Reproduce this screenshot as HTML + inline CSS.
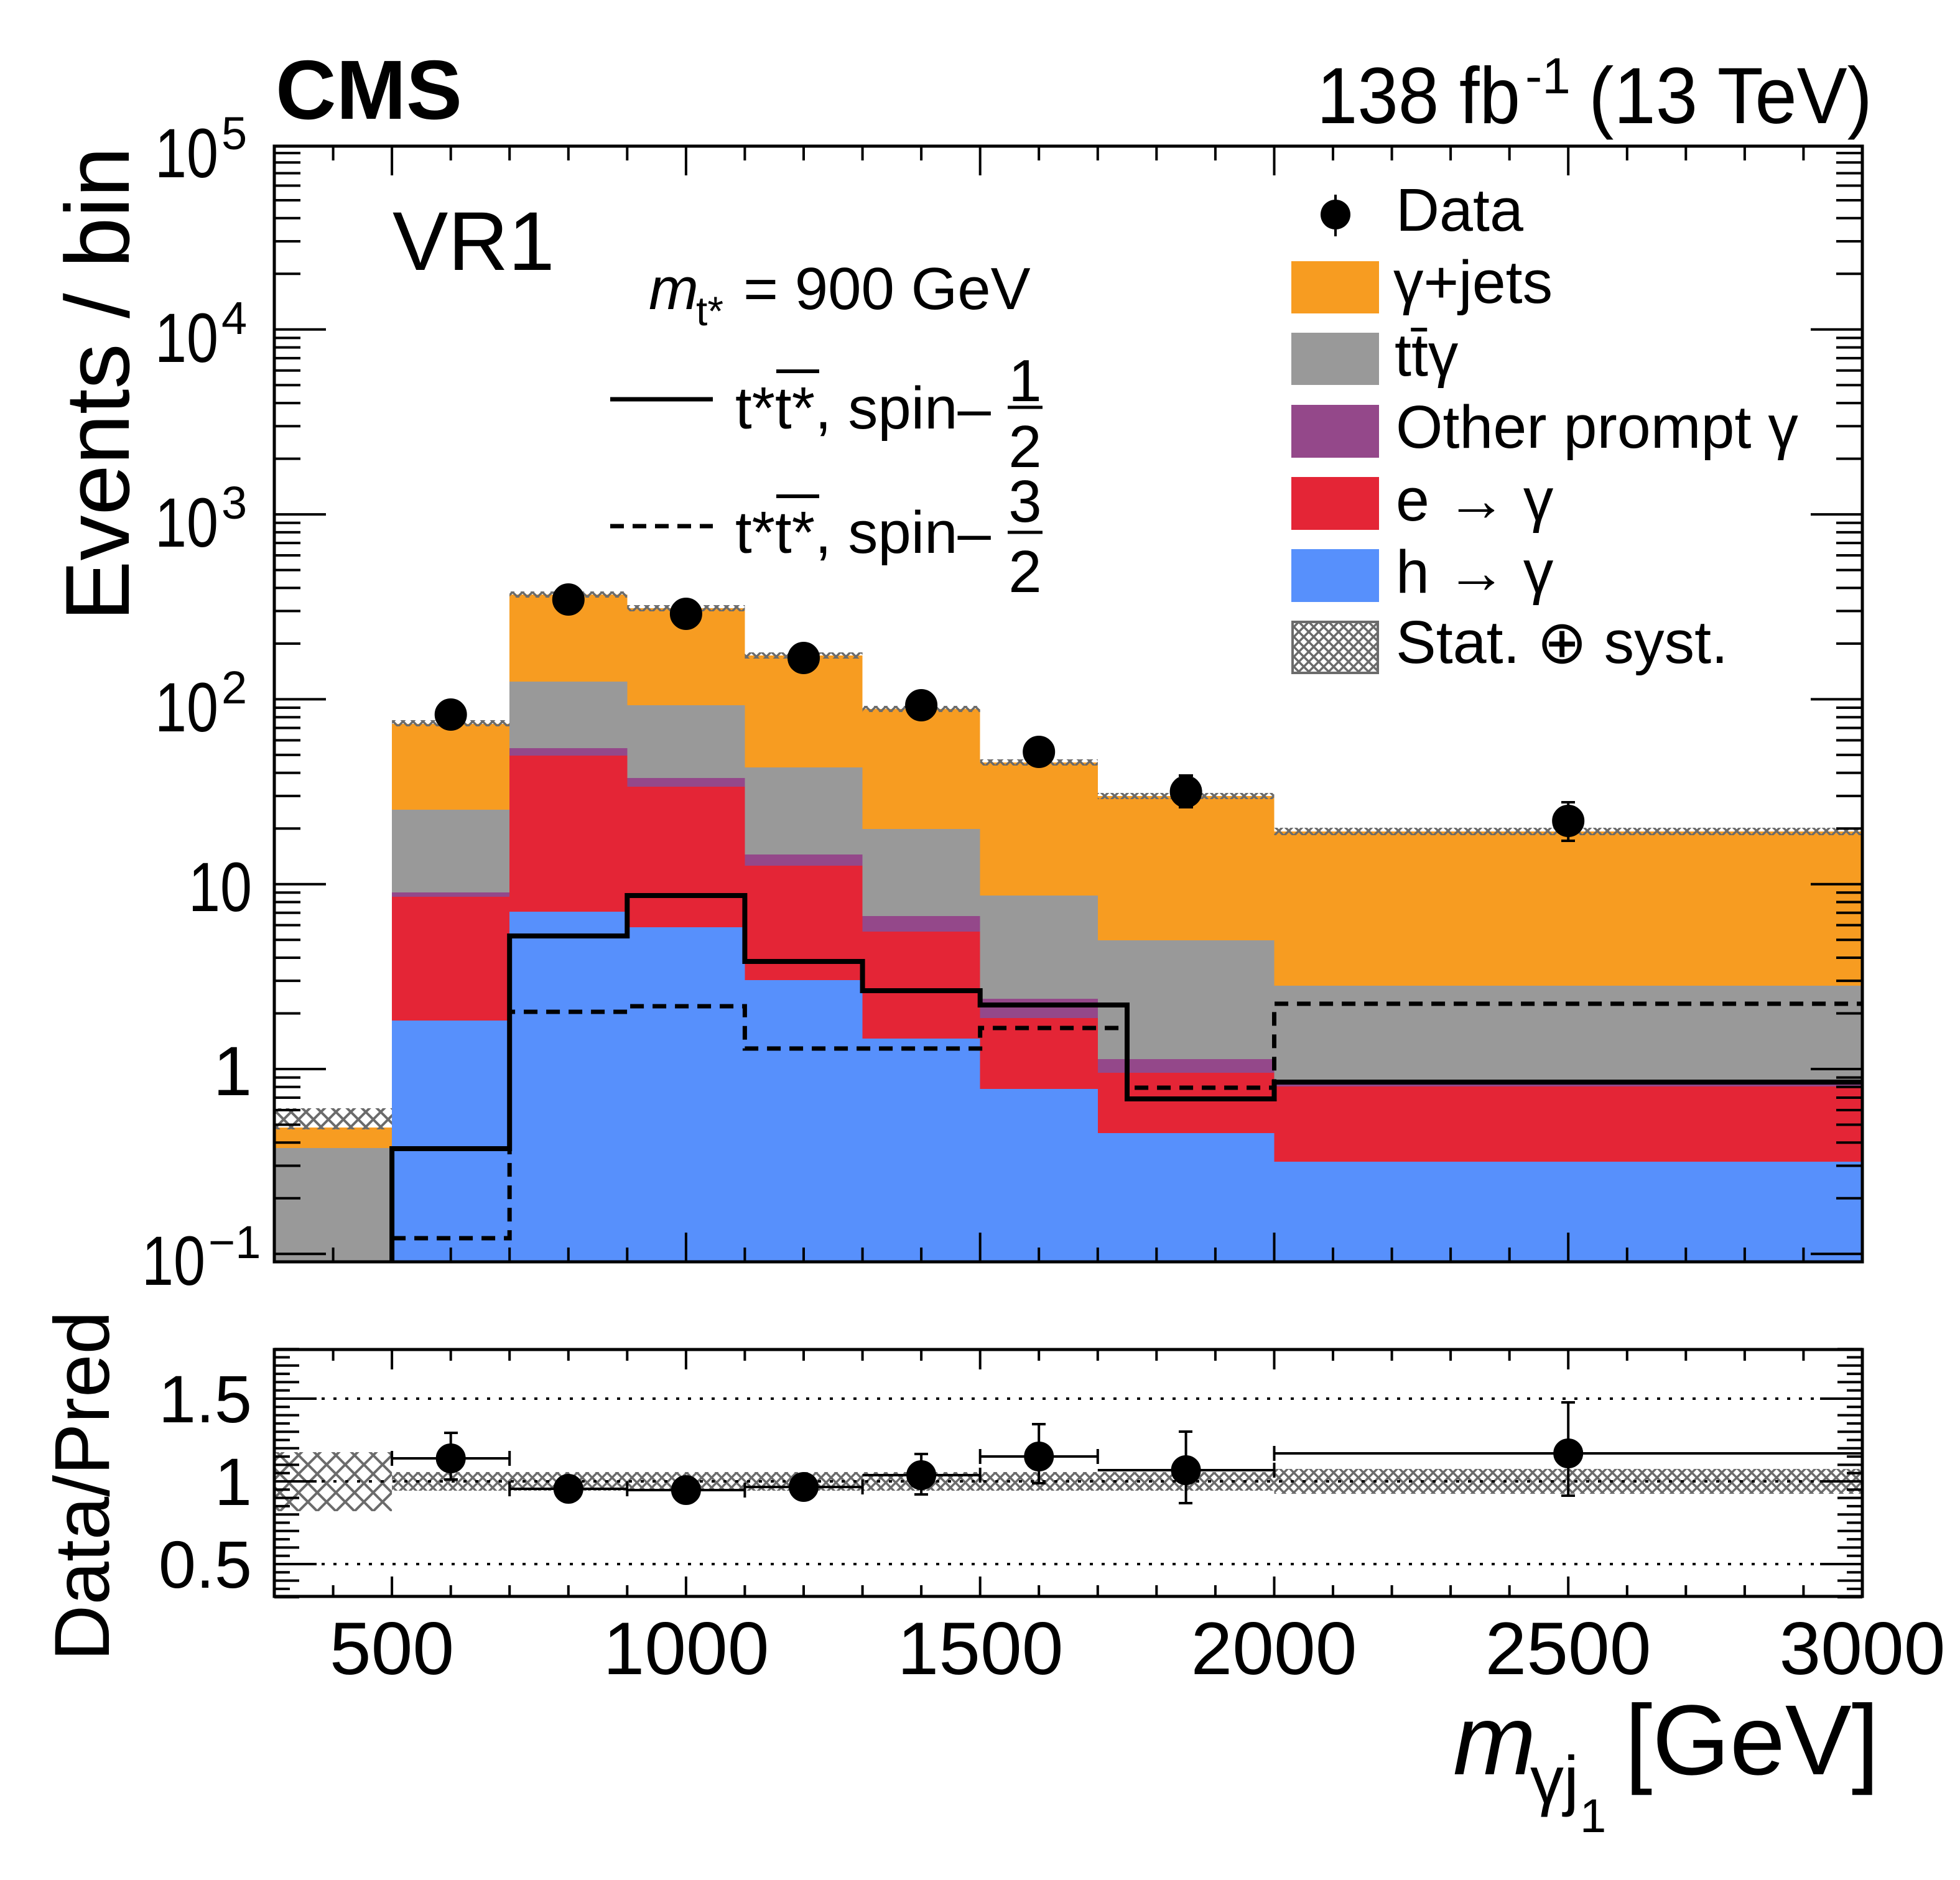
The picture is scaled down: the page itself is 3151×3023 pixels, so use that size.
<!DOCTYPE html>
<html><head><meta charset="utf-8"><style>
html,body{margin:0;padding:0;background:#fff;}
svg{display:block;}
text{font-family:"Liberation Sans",Arial,sans-serif;fill:#000;}
</style></head><body>
<svg width="3151" height="3023" viewBox="0 0 3151 3023" xmlns="http://www.w3.org/2000/svg">
<defs>
<pattern id="hx" width="24" height="24" patternUnits="userSpaceOnUse">
<path d="M0 0L24 24M24 0L0 24" stroke="#6b6b6b" stroke-width="4"/>
</pattern>
<pattern id="hs" width="16" height="16" patternUnits="userSpaceOnUse">
<path d="M0 0L16 16M16 0L0 16" stroke="#6b6b6b" stroke-width="3.5"/>
</pattern>
<pattern id="hr" width="30" height="30" patternUnits="userSpaceOnUse">
<path d="M0 0L30 30M30 0L0 30" stroke="#6b6b6b" stroke-width="4"/>
</pattern>
</defs>

<g shape-rendering="crispEdges">
<rect x="441" y="1813" width="189.1" height="216" fill="#f79c21"/>
<rect x="441" y="1846" width="189.1" height="183" fill="#999999"/>
<rect x="630.1" y="1164" width="189.1" height="865" fill="#f79c21"/>
<rect x="630.1" y="1302" width="189.1" height="727" fill="#999999"/>
<rect x="630.1" y="1435" width="189.1" height="594" fill="#94488a"/>
<rect x="630.1" y="1442" width="189.1" height="587" fill="#e42536"/>
<rect x="630.1" y="1641" width="189.1" height="388" fill="#5790fc"/>
<rect x="819.2" y="956" width="189.1" height="1073" fill="#f79c21"/>
<rect x="819.2" y="1096" width="189.1" height="933" fill="#999999"/>
<rect x="819.2" y="1203" width="189.1" height="826" fill="#94488a"/>
<rect x="819.2" y="1215" width="189.1" height="814" fill="#e42536"/>
<rect x="819.2" y="1466" width="189.1" height="563" fill="#5790fc"/>
<rect x="1008.3" y="978" width="189.1" height="1051" fill="#f79c21"/>
<rect x="1008.3" y="1134" width="189.1" height="895" fill="#999999"/>
<rect x="1008.3" y="1251" width="189.1" height="778" fill="#94488a"/>
<rect x="1008.3" y="1265" width="189.1" height="764" fill="#e42536"/>
<rect x="1008.3" y="1491" width="189.1" height="538" fill="#5790fc"/>
<rect x="1197.4" y="1054" width="189.2" height="975" fill="#f79c21"/>
<rect x="1197.4" y="1234" width="189.2" height="795" fill="#999999"/>
<rect x="1197.4" y="1374" width="189.2" height="655" fill="#94488a"/>
<rect x="1197.4" y="1392" width="189.2" height="637" fill="#e42536"/>
<rect x="1197.4" y="1576" width="189.2" height="453" fill="#5790fc"/>
<rect x="1386.6" y="1140" width="189.1" height="889" fill="#f79c21"/>
<rect x="1386.6" y="1333" width="189.1" height="696" fill="#999999"/>
<rect x="1386.6" y="1473" width="189.1" height="556" fill="#94488a"/>
<rect x="1386.6" y="1498" width="189.1" height="531" fill="#e42536"/>
<rect x="1386.6" y="1670" width="189.1" height="359" fill="#5790fc"/>
<rect x="1575.7" y="1226" width="189.1" height="803" fill="#f79c21"/>
<rect x="1575.7" y="1440" width="189.1" height="589" fill="#999999"/>
<rect x="1575.7" y="1606" width="189.1" height="423" fill="#94488a"/>
<rect x="1575.7" y="1637" width="189.1" height="392" fill="#e42536"/>
<rect x="1575.7" y="1751" width="189.1" height="278" fill="#5790fc"/>
<rect x="1764.8" y="1280" width="283.7" height="749" fill="#f79c21"/>
<rect x="1764.8" y="1512" width="283.7" height="517" fill="#999999"/>
<rect x="1764.8" y="1703" width="283.7" height="326" fill="#94488a"/>
<rect x="1764.8" y="1725" width="283.7" height="304" fill="#e42536"/>
<rect x="1764.8" y="1822" width="283.7" height="207" fill="#5790fc"/>
<rect x="2048.5" y="1337" width="945.5" height="692" fill="#f79c21"/>
<rect x="2048.5" y="1585" width="945.5" height="444" fill="#999999"/>
<rect x="2048.5" y="1740" width="945.5" height="289" fill="#94488a"/>
<rect x="2048.5" y="1747" width="945.5" height="282" fill="#e42536"/>
<rect x="2048.5" y="1868" width="945.5" height="161" fill="#5790fc"/>
</g>

<rect x="441" y="1782" width="189.1" height="34" fill="url(#hx)"/>
<rect x="630.1" y="1158" width="189.1" height="10" fill="url(#hs)"/>
<rect x="819.2" y="951" width="189.1" height="10" fill="url(#hs)"/>
<rect x="1008.3" y="973" width="189.1" height="10" fill="url(#hs)"/>
<rect x="1197.4" y="1049" width="189.2" height="10" fill="url(#hs)"/>
<rect x="1386.6" y="1135" width="189.1" height="10" fill="url(#hs)"/>
<rect x="1575.7" y="1221" width="189.1" height="10" fill="url(#hs)"/>
<rect x="1764.8" y="1275" width="283.7" height="10" fill="url(#hs)"/>
<rect x="2048.5" y="1331" width="945.5" height="12" fill="url(#hs)"/>

<path d="M630.1 2029V1847H819.2V1505H1008.3V1440H1197.4V1546H1386.6V1593H1575.7V1616H1812V1767H2048.5V1740H2994" fill="none" stroke="#000" stroke-width="8"/>
<path d="M630.1 1991H819.2V1627H1008.3V1618H1197.4V1686H1575.7V1653H1812V1749H2048.5V1614H2994" fill="none" stroke="#000" stroke-width="7" stroke-dasharray="22,14"/>

<g fill="#000" stroke="#000" stroke-width="4">
<circle cx="724.7" cy="1149" r="24"/>
<circle cx="913.8" cy="964" r="24"/>
<circle cx="1102.9" cy="987" r="24"/>
<circle cx="1292" cy="1058" r="24"/>
<circle cx="1481.1" cy="1134" r="24"/>
<circle cx="1670.2" cy="1209" r="24"/>
<circle cx="1906.6" cy="1273" r="24"/>
<line x1="1906.6" y1="1246" x2="1906.6" y2="1299"/>
<line x1="1895" y1="1247" x2="1918" y2="1247"/><line x1="1895" y1="1298" x2="1918" y2="1298"/>
<circle cx="2521.2" cy="1320" r="24"/>
<line x1="2521.2" y1="1290" x2="2521.2" y2="1352"/>
<line x1="2510" y1="1290" x2="2532" y2="1290"/><line x1="2510" y1="1352" x2="2532" y2="1352"/>
</g>

<g stroke="#000" stroke-width="4" fill="none">
<path d="M535.6 235v23M630.1 235v47M724.7 235v23M819.2 235v23M913.8 235v23M1008.3 235v23M1102.9 235v47M1197.4 235v23M1292 235v23M1386.6 235v23M1481.1 235v23M1575.7 235v47M1670.2 235v23M1764.8 235v23M1859.3 235v23M1953.9 235v23M2048.5 235v47M2143 235v23M2237.6 235v23M2332.1 235v23M2426.7 235v23M2521.2 235v47M2615.8 235v23M2710.3 235v23M2804.9 235v23M2899.4 235v23"/>
<path d="M535.6 2029v-23M630.1 2029v-47M724.7 2029v-23M819.2 2029v-23M913.8 2029v-23M1008.3 2029v-23M1102.9 2029v-47M1197.4 2029v-23M1292 2029v-23M1386.6 2029v-23M1481.1 2029v-23M1575.7 2029v-47M1670.2 2029v-23M1764.8 2029v-23M1859.3 2029v-23M1953.9 2029v-23M2048.5 2029v-47M2143 2029v-23M2237.6 2029v-23M2332.1 2029v-23M2426.7 2029v-23M2521.2 2029v-47M2615.8 2029v-23M2710.3 2029v-23M2804.9 2029v-23M2899.4 2029v-23"/>
</g>
<g id="yticks" stroke="#000" stroke-width="4"></g>
<rect x="441" y="235" width="2553" height="1794" fill="none" stroke="#000" stroke-width="5"/>

<rect x="441" y="2335" width="189.1" height="95" fill="url(#hr)"/>
<rect x="630.1" y="2367" width="1418.4" height="30" fill="url(#hs)"/>
<rect x="2048.5" y="2362" width="945.5" height="40" fill="url(#hs)"/>
<g stroke="#000" stroke-width="4" stroke-dasharray="5,14">
<line x1="441" y1="2249" x2="2994" y2="2249"/>
<line x1="441" y1="2382" x2="2994" y2="2382"/>
<line x1="441" y1="2515" x2="2994" y2="2515"/>
</g>
<g stroke="#000" stroke-width="4" fill="#000">
<path d="M630.1 2345H819.2M630.1 2333v24M819.2 2333v24M724.7 2304v75M714 2304h22M714 2379h22" fill="none"/>
<circle cx="724.7" cy="2345" r="22"/>
<path d="M819.2 2394H1008.3M819.2 2382v24M1008.3 2382v24" fill="none"/>
<circle cx="913.8" cy="2394" r="22"/>
<path d="M1008.3 2396H1197.4M1197.4 2384v24" fill="none"/>
<circle cx="1102.9" cy="2396" r="22"/>
<path d="M1197.4 2391H1386.6M1386.6 2379v24M1292 2373v34M1281 2373h22M1281 2407h22" fill="none"/>
<circle cx="1292" cy="2391" r="22"/>
<path d="M1386.6 2372H1575.7M1575.7 2360v24M1481.1 2338v65M1470 2338h22M1470 2403h22" fill="none"/>
<circle cx="1481.1" cy="2372" r="22"/>
<path d="M1575.7 2342H1764.8M1575.7 2330v24M1764.8 2330v24M1670.2 2290v95M1659 2290h22M1659 2385h22" fill="none"/>
<circle cx="1670.2" cy="2342" r="22"/>
<path d="M1764.8 2364H2048.5M2048.5 2352v24M1906.6 2302v115M1895 2302h22M1895 2417h22" fill="none"/>
<circle cx="1906.6" cy="2364" r="22"/>
<path d="M2048.5 2337H2994M2048.5 2325v24M2521.2 2255v150M2510 2255h22M2510 2405h22" fill="none"/>
<circle cx="2521.2" cy="2337" r="22"/>
</g>
<g stroke="#000" stroke-width="4" fill="none">
<path d="M535.6 2170v18M630.1 2170v32M724.7 2170v18M819.2 2170v18M913.8 2170v18M1008.3 2170v18M1102.9 2170v32M1197.4 2170v18M1292 2170v18M1386.6 2170v18M1481.1 2170v18M1575.7 2170v32M1670.2 2170v18M1764.8 2170v18M1859.3 2170v18M1953.9 2170v18M2048.5 2170v32M2143 2170v18M2237.6 2170v18M2332.1 2170v18M2426.7 2170v18M2521.2 2170v32M2615.8 2170v18M2710.3 2170v18M2804.9 2170v18M2899.4 2170v18"/>
<path d="M535.6 2567v-18M630.1 2567v-32M724.7 2567v-18M819.2 2567v-18M913.8 2567v-18M1008.3 2567v-18M1102.9 2567v-32M1197.4 2567v-18M1292 2567v-18M1386.6 2567v-18M1481.1 2567v-18M1575.7 2567v-32M1670.2 2567v-18M1764.8 2567v-18M1859.3 2567v-18M1953.9 2567v-18M2048.5 2567v-32M2143 2567v-18M2237.6 2567v-18M2332.1 2567v-18M2426.7 2567v-18M2521.2 2567v-32M2615.8 2567v-18M2710.3 2567v-18M2804.9 2567v-18M2899.4 2567v-18"/>
</g>
<g id="rticks" stroke="#000" stroke-width="4"></g>
<rect x="441" y="2170" width="2553" height="397" fill="none" stroke="#000" stroke-width="5"/>

<g font-size="112">
<text x="249" y="285" textLength="102" lengthAdjust="spacingAndGlyphs">10</text><text x="356" y="240" font-size="74">5</text>
<text x="249" y="582" textLength="102" lengthAdjust="spacingAndGlyphs">10</text><text x="356" y="537" font-size="74">4</text>
<text x="249" y="879" textLength="102" lengthAdjust="spacingAndGlyphs">10</text><text x="356" y="834" font-size="74">3</text>
<text x="249" y="1176" textLength="102" lengthAdjust="spacingAndGlyphs">10</text><text x="356" y="1131" font-size="74">2</text>
<text x="303" y="1465" textLength="102" lengthAdjust="spacingAndGlyphs">10</text>
<text x="405" y="1761" text-anchor="end">1</text>
<text x="228" y="2066" textLength="102" lengthAdjust="spacingAndGlyphs">10</text><text x="335" y="2023" font-size="74">−1</text>
</g>
<g font-size="108" text-anchor="end">
<text x="405" y="2287">1.5</text>
<text x="405" y="2420">1</text>
<text x="405" y="2553">0.5</text>
</g>
<g font-size="120" text-anchor="middle">
<text x="630" y="2692">500</text>
<text x="1103" y="2692">1000</text>
<text x="1576" y="2692">1500</text>
<text x="2048" y="2692">2000</text>
<text x="2521" y="2692">2500</text>
<text x="2994" y="2692">3000</text>
</g>
<text transform="translate(207,236) rotate(-90)" text-anchor="end" font-size="146">Events / bin</text>
<text transform="translate(175,2108) rotate(-90)" text-anchor="end" font-size="125">Data/Pred</text>

<text x="2336" y="2853" font-size="160" font-style="italic">m</text>
<text x="2460" y="2899" font-size="108">γj</text>
<text x="2540" y="2946" font-size="76">1</text>
<text x="2612" y="2853" font-size="160">[GeV]</text>

<text x="443" y="191" font-size="135" font-weight="bold">CMS</text>
<text x="2117" y="198" font-size="128" textLength="327" lengthAdjust="spacingAndGlyphs">138 fb</text>
<text x="2452" y="150" font-size="82">-1</text>
<text x="2554" y="198" font-size="128" textLength="456" lengthAdjust="spacingAndGlyphs">(13 TeV)</text>

<text x="631" y="434" font-size="134">VR1</text>
<text x="1043" y="497" font-size="96" font-style="italic">m</text>
<text x="1119" y="523" font-size="66">t*</text>
<text x="1195" y="497" font-size="96">= 900 GeV</text>
<line x1="981" y1="642" x2="1146" y2="642" stroke="#000" stroke-width="7"/>
<line x1="981" y1="846" x2="1146" y2="846" stroke="#000" stroke-width="7" stroke-dasharray="22,14"/>
<g font-size="96">
<text x="1182" y="689">t*t*, spin–</text>
<line x1="1248" y1="597" x2="1317" y2="597" stroke="#000" stroke-width="6"/>
<text x="1648" y="645" text-anchor="middle">1</text>
<line x1="1620" y1="655" x2="1676" y2="655" stroke="#000" stroke-width="5"/>
<text x="1648" y="751" text-anchor="middle">2</text>
<text x="1182" y="889">t*t*, spin–</text>
<line x1="1248" y1="798" x2="1317" y2="798" stroke="#000" stroke-width="6"/>
<text x="1648" y="839" text-anchor="middle">3</text>
<line x1="1620" y1="856" x2="1676" y2="856" stroke="#000" stroke-width="5"/>
<text x="1648" y="952" text-anchor="middle">2</text>
</g>

<circle cx="2147" cy="345" r="24" fill="#000"/>
<line x1="2147" y1="313" x2="2147" y2="380" stroke="#000" stroke-width="4"/>
<rect x="2076" y="420" width="141" height="84" fill="#f79c21"/>
<rect x="2076" y="535" width="141" height="84" fill="#999999"/>
<rect x="2076" y="651" width="141" height="85" fill="#94488a"/>
<rect x="2076" y="767" width="141" height="85" fill="#e42536"/>
<rect x="2076" y="883" width="141" height="85" fill="#5790fc"/>
<rect x="2078" y="1000" width="137" height="82" fill="url(#hs)" stroke="#6b6b6b" stroke-width="4"/>
<g font-size="97">
<text x="2244" y="371">Data</text>
<text x="2240" y="487">γ+jets</text>
<text x="2242" y="604">tt̄γ</text>
<text x="2244" y="720">Other prompt γ</text>
<text x="2244" y="837">e → γ</text>
<text x="2244" y="953">h → γ</text>
<text x="2244" y="1066">Stat. ⊕ syst.</text>
</g>

<script>
(function(){
var ns="http://www.w3.org/2000/svg";
var g=document.getElementById("yticks");
function Y(v){return 1719-Math.log10(v)*297.3;}
function ln(x1,y,x2,p){var l=document.createElementNS(ns,"line");l.setAttribute("x1",x1);l.setAttribute("x2",x2);l.setAttribute("y1",y);l.setAttribute("y2",y);p.appendChild(l);}
for(var e=-2;e<=4;e++){for(var k=1;k<=9;k++){var v=k*Math.pow(10,e);var y=Y(v);if(y<235||y>2029)continue;var L=(k==1)?83:42;ln(441,y,441+L,g);ln(2994,y,2994-L,g);}}
var r=document.getElementById("rticks");
for(var i=0;i<=30;i++){var v=0.3+i*0.05;var y=2382-(v-1)*266;var m=Math.round(v*100);var L=(m%50==0)?68:((m%10==0)?40:25);ln(441,y,441+L,r);ln(2994,y,2994-L,r);}
})();
</script>
</svg>
</body></html>
